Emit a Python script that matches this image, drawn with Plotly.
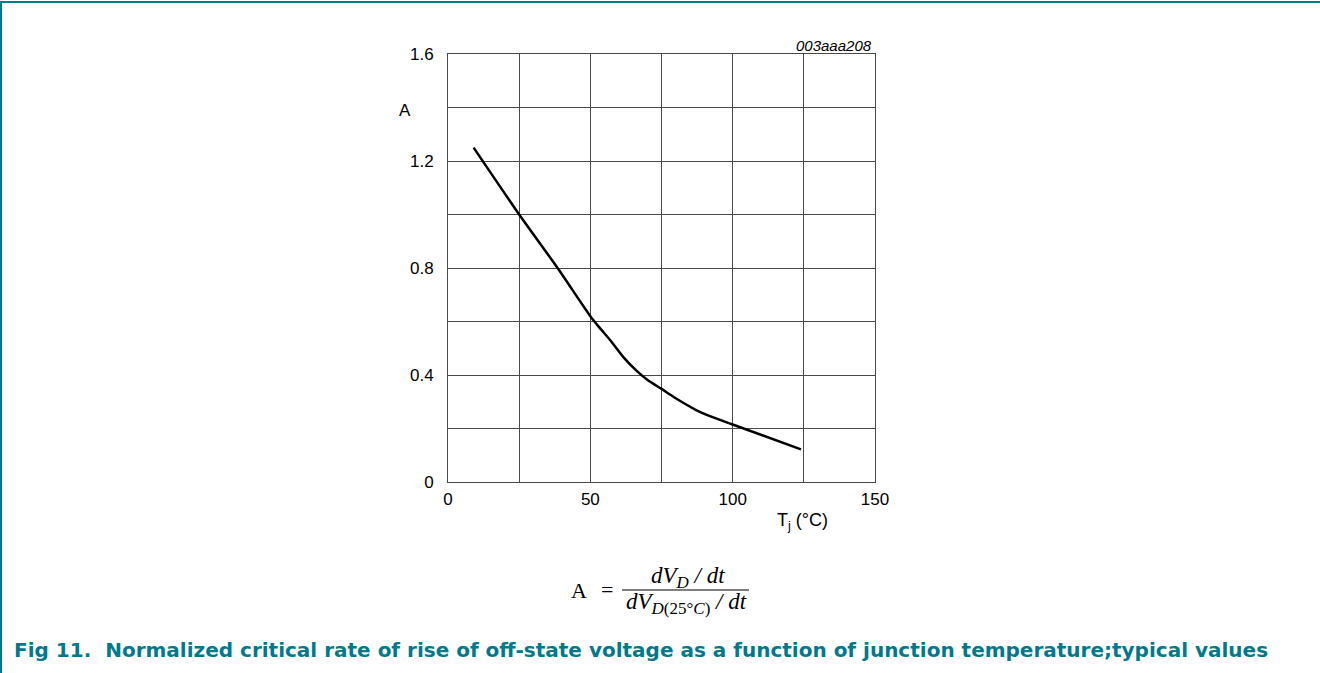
import plotly.graph_objects as go

# Normalized dV/dt versus junction temperature (typical curve)
tj = [9, 25, 38.5, 50, 53, 57, 62, 66, 70, 75, 80, 87, 92, 100, 124]
a_norm = [1.25, 1.0, 0.8, 0.62, 0.58, 0.53, 0.462, 0.418, 0.382, 0.348, 0.313, 0.27, 0.246, 0.215, 0.122]

x_ticks = [0, 50, 100, 150]
x_labels = ["0", "50", "100", "150"]
x_minor = [25, 75, 125]
y_ticks = [0, 0.4, 0.8, 1.2, 1.6]
y_labels = ["0", "0.4", "0.8", "1.2", "1.6"]
y_minor = [0.2, 0.6, 1.0, 1.4]

TEAL = "#00798C"
GRID = "#4a4a4a"
FONT = "Liberation Sans, Arial, sans-serif"
SERIF = "Liberation Serif, Times New Roman, serif"

fig = go.Figure()
fig.add_trace(go.Scatter(
    x=tj, y=a_norm, mode="lines",
    line=dict(color="black", width=2.5, shape="spline", smoothing=0.6),
    hoverinfo="skip", showlegend=False,
))

axis_common = dict(
    showgrid=True, gridcolor=GRID, gridwidth=1,
    zeroline=False, showline=True, linecolor=GRID, linewidth=1, mirror=True,
    ticks="outside", tickcolor="rgba(0,0,0,0)",
    tickfont=dict(family=FONT, size=17, color="black"),
)
fig.update_xaxes(range=[0, 150], tickvals=x_ticks, ticktext=x_labels, ticklen=2,
                 minor=dict(tickvals=x_minor, showgrid=True, gridcolor=GRID, gridwidth=1, ticks=""),
                 **axis_common)
fig.update_yaxes(range=[0, 1.6], tickvals=y_ticks, ticktext=y_labels, ticklen=10,
                 minor=dict(tickvals=y_minor, showgrid=True, gridcolor=GRID, gridwidth=1, ticks=""),
                 **axis_common)

sub = "<span style='font-size:17px'>{}</span>"
annotations = [
    dict(text="<i>003aaa208</i>", x=874, y=45, xanchor="right", font=dict(family=FONT, size=15, color="black")),
    dict(text="A", x=405, y=110, font=dict(family=FONT, size=17, color="black")),
    dict(text="T<sub>j</sub> (°C)", x=802, y=521, font=dict(family=FONT, size=18, color="black")),
    # formula
    dict(text="A", x=579, y=590, font=dict(family=SERIF, size=22, color="black")),
    dict(text="=", x=607, y=589, font=dict(family=SERIF, size=22, color="black")),
    dict(text="<i>dV</i><sub>" + sub.format("<i>D</i>") + "</sub><i> / dt</i>", x=688, y=577,
         font=dict(family=SERIF, size=23, color="black")),
    dict(text="<i>dV</i><sub>" + sub.format("<i>D</i>(25°<i>C</i>)") + "</sub><i> / dt</i>", x=686, y=603,
         font=dict(family=SERIF, size=23, color="black")),
    # caption
    dict(text="<b>Fig 11.  Normalized critical rate of rise of off-state voltage as a function of junction temperature;typical values</b>",
         x=12, y=650, xanchor="left",
         font=dict(family="DejaVu Sans, Verdana, sans-serif", size=20, color=TEAL)),
]

# Annotations are positioned in page pixels, converted to paper coordinates
W, H = 1320, 673
ML, MR, MT, MB = 448, 445, 54, 191
pw, ph = W - ML - MR, H - MT - MB
for ann in annotations:
    px, py = ann["x"], ann["y"]
    ann["x"] = (px - ML) / pw
    ann["y"] = (H - MB - py) / ph
    ann["xref"] = "paper"
    ann["yref"] = "paper"
    ann["showarrow"] = False
    ann.setdefault("xanchor", "center")
    ann["yanchor"] = "middle"

shapes = [
    # fraction bar
    dict(type="line", xref="paper", yref="paper",
         x0=(622 - ML) / pw, x1=(749 - ML) / pw,
         y0=(H - MB - 590) / ph, y1=(H - MB - 590) / ph,
         line=dict(color="black", width=1.2)),
    # page frame: top and left rules
    dict(type="line", xref="paper", yref="paper",
         x0=(0 - ML) / pw, x1=(W - ML) / pw,
         y0=(H - MB - 2) / ph, y1=(H - MB - 2) / ph,
         line=dict(color=TEAL, width=2)),
    dict(type="line", xref="paper", yref="paper",
         x0=(1 - ML) / pw, x1=(1 - ML) / pw,
         y0=(H - MB - 1) / ph, y1=(H - MB - H) / ph,
         line=dict(color=TEAL, width=2)),
]

fig.update_layout(
    width=W, height=H,
    margin=dict(l=ML, r=MR, t=MT, b=MB, pad=0),
    paper_bgcolor="white", plot_bgcolor="white",
    annotations=annotations, shapes=shapes,
    showlegend=False,
)

fig.write_html("out.html", config={"displayModeBar": False})
